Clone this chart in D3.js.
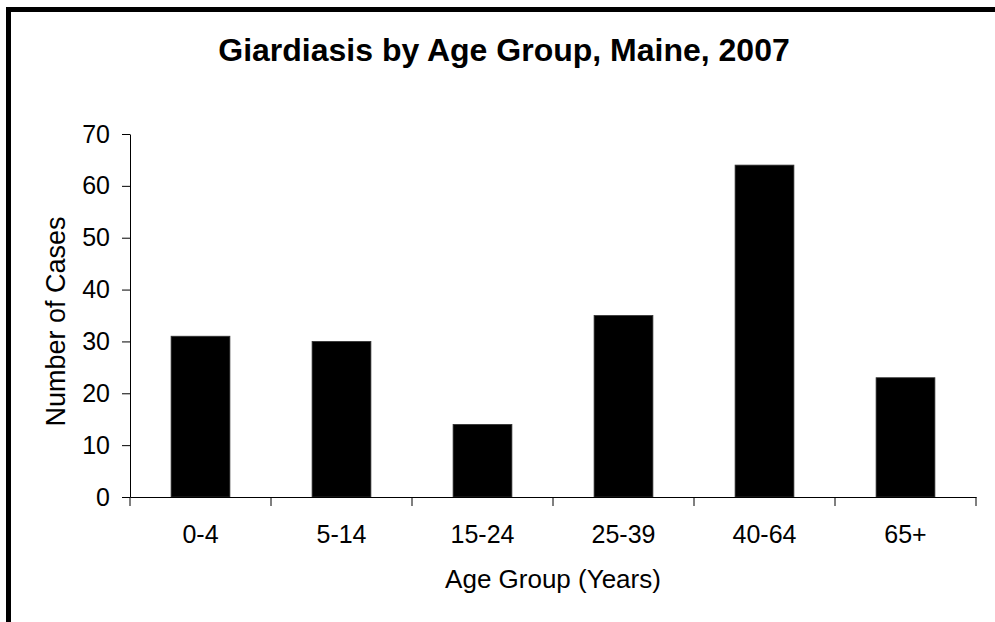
<!DOCTYPE html>
<html>
<head>
<meta charset="utf-8">
<script src="https://cdn.jsdelivr.net/npm/d3@7"></script>
<style>
  body { margin: 0; background: #fff; }
  .chart text { font-family: "Liberation Sans", Arial, sans-serif; fill: #000; }
</style>
</head>
<body>
<div id="chart"></div>
<script>
const ageGroups = ['0-4', '5-14', '15-24', '25-39', '40-64', '65+']
const cases = [31, 30, 14, 35, 64, 23]
const yTicks = [0, 10, 20, 30, 40, 50, 60, 70]

const W = 995
const H = 622
const margin = { top: 134, right: 19, bottom: 125, left: 130 }
const width = W - margin.left - margin.right
const height = H - margin.top - margin.bottom

const svg = d3.select('#chart').append('svg')
  .attr('class', 'chart')
  .attr('width', W)
  .attr('height', H)

// outer frame (cut off at the right and bottom in the original)
svg.append('rect')
  .attr('x', 8.5).attr('y', 9.5)
  .attr('width', 1200).attr('height', 900)
  .attr('fill', 'none')
  .attr('stroke', '#000')
  .attr('stroke-width', 5)

svg.append('text')
  .attr('x', 504).attr('y', 61)
  .attr('text-anchor', 'middle')
  .style('font-size', '32px')
  .style('font-weight', 'bold')
  .text('Giardiasis by Age Group, Maine, 2007')

const chart = svg.append('g')
  .attr('transform', `translate(${margin.left},${margin.top})`)

const x = d3.scaleBand()
  .domain(ageGroups)
  .range([0, width])
  .padding(0)

const y = d3.scaleLinear()
  .domain([0, 70])
  .range([height, 0])

const barW = x.step() * 0.417

chart.selectAll('.bar').data(ageGroups)
  .enter().append('rect')
  .attr('class', 'bar')
  .attr('x', (d) => x(d) + (x.bandwidth() - barW) / 2)
  .attr('width', barW)
  .attr('y', (d, i) => y(cases[i]))
  .attr('height', (d, i) => height - y(cases[i]))
  .attr('fill', '#000')
  .attr('stroke', '#333')
  .attr('stroke-width', 0.8)

// y axis
const yAxis = chart.append('g')
  .call(d3.axisLeft(y).tickValues(yTicks).tickSize(8).tickPadding(12).tickSizeOuter(0))
yAxis.selectAll('text').style('font-size', '25px')
yAxis.selectAll('path, line').attr('stroke', '#000')

// x axis: ticks at category boundaries
const xAxis = chart.append('g')
  .attr('transform', `translate(0,${height})`)
  .call(d3.axisBottom(x).tickSize(0).tickPadding(28).tickSizeOuter(0))
xAxis.selectAll('text').style('font-size', '25px')
xAxis.select('.domain').attr('stroke', '#000')

const bounds = ageGroups.map((d) => x(d)).concat([width])
xAxis.selectAll('.sep').data(bounds)
  .enter().append('line')
  .attr('class', 'sep')
  .attr('x1', (d) => d).attr('x2', (d) => d)
  .attr('y1', 0).attr('y2', 9)
  .attr('stroke', '#000')

svg.append('text')
  .attr('x', margin.left + width / 2).attr('y', 588)
  .attr('text-anchor', 'middle')
  .style('font-size', '26px')
  .text('Age Group (Years)')

svg.append('text')
  .attr('transform', `translate(65,${margin.top + height / 2 + 6}) rotate(-90)`)
  .attr('text-anchor', 'middle')
  .style('font-size', '27px')
  .text('Number of Cases')
</script>
</body>
</html>
